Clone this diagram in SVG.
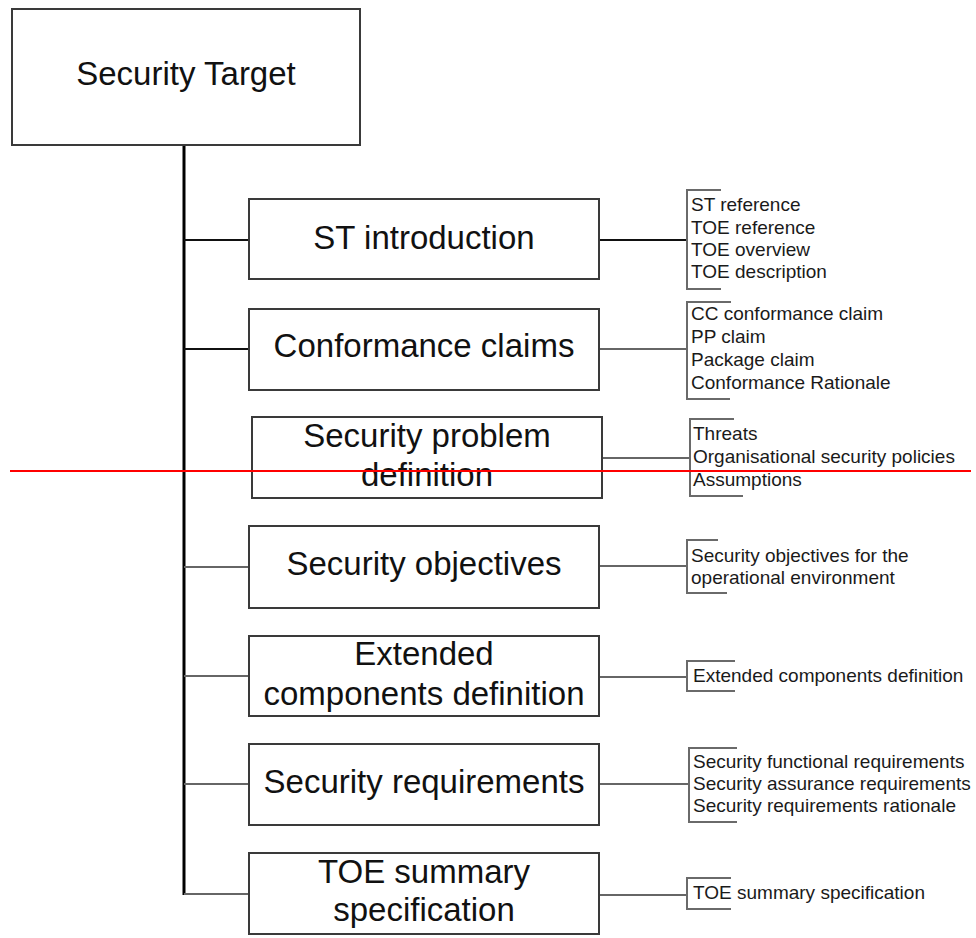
<svg xmlns="http://www.w3.org/2000/svg" width="976" height="938" viewBox="0 0 976 938">
<style>
.box{fill:#fff;stroke:#3a3a3a;stroke-width:2}
.bt{font-family:"Liberation Sans",Arial,sans-serif;font-size:33px;fill:#111;text-anchor:middle}
.it{font-family:"Liberation Sans",Arial,sans-serif;font-size:19px;fill:#1a1a1a}
.cb{stroke:#111;stroke-width:2;fill:none}
.cg{stroke:#666;stroke-width:2;fill:none}
.br{stroke:#6a6a6a;stroke-width:2;fill:none}
</style>
<rect width="976" height="938" fill="#fff"/>
<g id="connectors">
<line x1="184" y1="145" x2="184" y2="895" stroke="#000" stroke-width="3"/>
<line class="cb" x1="184" y1="240" x2="249" y2="240"/>
<line class="cb" x1="184" y1="349" x2="249" y2="349"/>
<line class="cg" x1="184" y1="567" x2="249" y2="567"/>
<line class="cg" x1="184" y1="676" x2="249" y2="676"/>
<line class="cg" x1="184" y1="784" x2="249" y2="784"/>
<line class="cg" x1="184" y1="894" x2="249" y2="894"/>
<line class="cb" x1="599" y1="240" x2="687" y2="240"/>
<line class="cg" x1="599" y1="349" x2="687" y2="349"/>
<line class="cg" x1="602" y1="458" x2="690" y2="458"/>
<line class="cg" x1="599" y1="566" x2="687" y2="566"/>
<line class="cg" x1="599" y1="677" x2="687" y2="677"/>
<line class="cg" x1="599" y1="784" x2="689" y2="784"/>
<line class="cg" x1="599" y1="895" x2="687" y2="895"/>
</g>
<g id="security-target">
<rect class="box" x="12" y="9" width="348" height="136"/>
<text class="bt" x="186" y="85">Security Target</text>
</g>
<g id="st-introduction">
<rect class="box" x="249" y="199" width="350" height="80"/>
<text class="bt" x="424" y="249">ST introduction</text>
</g>
<g id="conformance-claims">
<rect class="box" x="249" y="309" width="350" height="81"/>
<text class="bt" x="424" y="357">Conformance claims</text>
</g>
<g id="security-problem-definition">
<rect class="box" x="252" y="417" width="350" height="81"/>
<text class="bt" x="427" y="447">Security problem</text>
<text class="bt" x="427" y="486">definition</text>
</g>
<g id="security-objectives">
<rect class="box" x="249" y="526" width="350" height="82"/>
<text class="bt" x="424" y="575">Security objectives</text>
</g>
<g id="extended-components">
<rect class="box" x="249" y="636" width="350" height="80"/>
<text class="bt" x="424" y="665">Extended</text>
<text class="bt" x="424" y="705">components definition</text>
</g>
<g id="security-requirements">
<rect class="box" x="249" y="744" width="350" height="81"/>
<text class="bt" x="424" y="793">Security requirements</text>
</g>
<g id="toe-summary">
<rect class="box" x="249" y="853" width="350" height="81"/>
<text class="bt" x="424" y="883">TOE summary</text>
<text class="bt" x="424" y="921">specification</text>
</g>
<g id="list-st-introduction">
<path class="br" d="M721,190 H687 V289 H721"/>
<text class="it" x="691" y="211">ST reference</text>
<text class="it" x="691" y="234">TOE reference</text>
<text class="it" x="691" y="256">TOE overview</text>
<text class="it" x="691" y="278">TOE description</text>
</g>
<g id="list-conformance">
<path class="br" d="M731,302 H687 V399 H730"/>
<text class="it" x="691" y="320">CC conformance claim</text>
<text class="it" x="691" y="343">PP claim</text>
<text class="it" x="691" y="366">Package claim</text>
<text class="it" x="691" y="389">Conformance Rationale</text>
</g>
<g id="list-spd">
<path class="br" d="M734,419 H690 V496 H743"/>
<text class="it" x="693" y="440">Threats</text>
<text class="it" x="693" y="463">Organisational security policies</text>
<text class="it" x="693" y="486">Assumptions</text>
</g>
<g id="list-objectives">
<path class="br" d="M718,540 H687 V593 H727"/>
<text class="it" x="691" y="562">Security objectives for the</text>
<text class="it" x="691" y="584">operational environment</text>
</g>
<g id="list-extended">
<path class="br" d="M735,661 H687 V691 H735"/>
<text class="it" x="693" y="682">Extended components definition</text>
</g>
<g id="list-requirements">
<path class="br" d="M737,748 H689 V822 H737"/>
<text class="it" x="693" y="768">Security functional requirements</text>
<text class="it" x="693" y="790">Security assurance requirements</text>
<text class="it" x="693" y="812">Security requirements rationale</text>
</g>
<g id="list-toe-summary">
<path class="br" d="M731,878 H687 V909 H731"/>
<text class="it" x="693" y="899">TOE summary specification</text>
</g>
<line x1="10" y1="471" x2="971" y2="471" stroke="#f00" stroke-width="2"/>
</svg>
